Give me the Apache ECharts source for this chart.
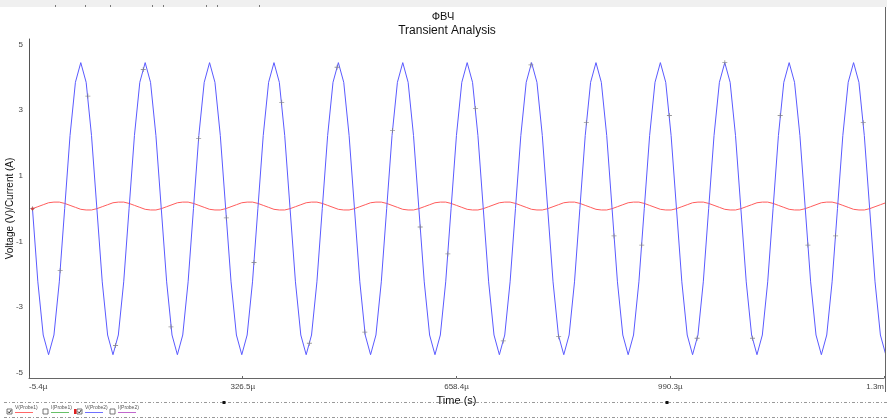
<!DOCTYPE html>
<html lang="ru">
<head>
    <meta charset="UTF-8">
    <title>ФВЧ Transient Analysis</title>
    <script src="https://cdn.jsdelivr.net/npm/echarts@6/dist/echarts.min.js"></script>
    <style>
        html, body { margin: 0; padding: 0; background: #fff; }
    </style>
</head>
<body>
    <div id="chart" style="width: 887px; height: 419px;"></div>
    <script>
        // sample step of both traces, microseconds
        const tStep = 8.333;

        // V(Probe2) - input sine, volts (12 samples per 100us period)
        const bluePoints = [
            0, -2.23, -3.85, -4.45, -3.85, -2.23, 0, 2.23, 3.85, 4.45, 3.85, 2.23,
            0, -2.23, -3.85, -4.45, -3.85, -2.23, 0, 2.23, 3.85, 4.45, 3.85, 2.23,
            0, -2.23, -3.85, -4.45, -3.85, -2.23, 0, 2.23, 3.85, 4.45, 3.85, 2.23,
            0, -2.23, -3.85, -4.45, -3.85, -2.23, 0, 2.23, 3.85, 4.45, 3.85, 2.23,
            0, -2.23, -3.85, -4.45, -3.85, -2.23, 0, 2.23, 3.85, 4.45, 3.85, 2.23,
            0, -2.23, -3.85, -4.45, -3.85, -2.23, 0, 2.23, 3.85, 4.45, 3.85, 2.23,
            0, -2.23, -3.85, -4.45, -3.85, -2.23, 0, 2.23, 3.85, 4.45, 3.85, 2.23,
            0, -2.23, -3.85, -4.45, -3.85, -2.23, 0, 2.23, 3.85, 4.45, 3.85, 2.23,
            0, -2.23, -3.85, -4.45, -3.85, -2.23, 0, 2.23, 3.85, 4.45, 3.85, 2.23,
            0, -2.23, -3.85, -4.45, -3.85, -2.23, 0, 2.23, 3.85, 4.45, 3.85, 2.23,
            0, -2.23, -3.85, -4.45, -3.85, -2.23, 0, 2.23, 3.85, 4.45, 3.85, 2.23,
            0, -2.23, -3.85, -4.45, -3.85, -2.23, 0, 2.23, 3.85, 4.45, 3.85, 2.23,
            0, -2.23, -3.85, -4.45, -3.85, -2.23, 0, 2.23, 3.85, 4.45, 3.85, 2.23,
            0, -2.23, -3.85, -4.45
        ];

        // V(Probe1) - filter output, volts
        const redPoints = [
            0.00, 0.06, 0.12, 0.18, 0.20, 0.20, 0.16, 0.10, 0.04, -0.02, -0.04, -0.04,
            0.00, 0.06, 0.12, 0.18, 0.20, 0.20, 0.16, 0.10, 0.04, -0.02, -0.04, -0.04,
            0.00, 0.06, 0.12, 0.18, 0.20, 0.20, 0.16, 0.10, 0.04, -0.02, -0.04, -0.04,
            0.00, 0.06, 0.12, 0.18, 0.20, 0.20, 0.16, 0.10, 0.04, -0.02, -0.04, -0.04,
            0.00, 0.06, 0.12, 0.18, 0.20, 0.20, 0.16, 0.10, 0.04, -0.02, -0.04, -0.04,
            0.00, 0.06, 0.12, 0.18, 0.20, 0.20, 0.16, 0.10, 0.04, -0.02, -0.04, -0.04,
            0.00, 0.06, 0.12, 0.18, 0.20, 0.20, 0.16, 0.10, 0.04, -0.02, -0.04, -0.04,
            0.00, 0.06, 0.12, 0.18, 0.20, 0.20, 0.16, 0.10, 0.04, -0.02, -0.04, -0.04,
            0.00, 0.06, 0.12, 0.18, 0.20, 0.20, 0.16, 0.10, 0.04, -0.02, -0.04, -0.04,
            0.00, 0.06, 0.12, 0.18, 0.20, 0.20, 0.16, 0.10, 0.04, -0.02, -0.04, -0.04,
            0.00, 0.06, 0.12, 0.18, 0.20, 0.20, 0.16, 0.10, 0.04, -0.02, -0.04, -0.04,
            0.00, 0.06, 0.12, 0.18, 0.20, 0.20, 0.16, 0.10, 0.04, -0.02, -0.04, -0.04,
            0.00, 0.06, 0.12, 0.18, 0.20, 0.20, 0.16, 0.10, 0.04, -0.02, -0.04, -0.04,
            0.00, 0.06, 0.12, 0.18
        ];

        // data point markers drawn on the blue trace: [time us, volts]
        const blueMarks = [
            [0, 0], [43, -1.89], [86, 3.43], [129, -4.17], [172, 4.24], [215, -3.60],
            [258, 2.14], [301, -0.28], [344, -1.64], [387, 3.24], [430, -4.10],
            [473, 4.31], [516, -3.76], [559, 2.38], [602, -0.56], [645, -1.38],
            [688, 3.05], [731, -4.03], [774, 4.38], [817, -3.90], [860, 2.62],
            [903, -0.83], [946, -1.11], [989, 2.84], [1032, -3.95], [1075, 4.45],
            [1118, -3.95], [1161, 2.84], [1204, -1.11], [1247, -0.83], [1290, 2.62]
        ];

        const xTicks = [-5.4, 326.5, 658.4, 990.3, 1322.2];
        const xTickLabels = ['-5.4µ', '326.5µ', '658.4µ', '990.3µ', '1.3m'];
        const yTicks = [-5, -3, -1, 1, 3, 5];

        const legendItems = [
            { label: 'V(Probe1)', color: '#ff4040', checked: true, x: 7 },
            { label: 'I(Probe1)', color: '#40b040', checked: false, x: 43 },
            { label: 'V(Probe2)', color: '#4a4aff', checked: true, x: 77 },
            { label: 'I(Probe2)', color: '#b040c0', checked: false, x: 110 }
        ];

        const font = '"Liberation Sans", Arial, sans-serif';

        const toXY = arr => arr.map((v, i) => [i * tStep, v]);

        // decorations around the plot (grapher window parts)
        const graphics = [
            { type: 'rect', shape: { x: 0, y: 0, width: 887, height: 7 }, style: { fill: '#f0f0f0' }, silent: true },
            { type: 'line', shape: { x1: 885.5, y1: 7, x2: 885.5, y2: 392 }, style: { stroke: '#666', lineWidth: 1 } },
            { type: 'line', shape: { x1: 4, y1: 402.5, x2: 887, y2: 402.5 }, style: { stroke: '#999', lineWidth: 1, lineDash: [3, 2, 1, 2] } },
            { type: 'line', shape: { x1: 4, y1: 417.5, x2: 887, y2: 417.5 }, style: { stroke: '#999', lineWidth: 1, lineDash: [3, 2, 1, 2] } },
            { type: 'rect', shape: { x: 222.5, y: 401, width: 3, height: 3 }, style: { fill: '#111' } },
            { type: 'rect', shape: { x: 665.5, y: 401, width: 3, height: 3 }, style: { fill: '#111' } },
            { type: 'text', style: { text: 'ФВЧ', x: 443, y: 17, align: 'center', verticalAlign: 'middle', font: '11px ' + font, fill: '#111' } },
            { type: 'text', style: { text: 'Transient Analysis', x: 447, y: 31, align: 'center', verticalAlign: 'middle', font: '12px ' + font, fill: '#111' } }
        ];
        [55, 85, 110, 152, 163, 206, 217, 259].forEach(x => {
            graphics.push({ type: 'rect', shape: { x: x, y: 5, width: 1, height: 2 }, style: { fill: '#777' } });
        });
        legendItems.forEach(item => {
            graphics.push({ type: 'rect', shape: { x: item.x, y: 409, width: 5, height: 5 }, style: { fill: '#fff', stroke: '#555', lineWidth: 0.8 } });
            if (item.checked) {
                graphics.push({ type: 'polyline', shape: { points: [[item.x + 1, 411.5], [item.x + 2.3, 413], [item.x + 4.2, 410]] }, style: { stroke: '#222', lineWidth: 0.9, fill: null } });
            }
            graphics.push({ type: 'text', style: { text: item.label, x: item.x + 8, y: 408, verticalAlign: 'middle', font: '5px ' + font, fill: '#555' } });
            graphics.push({ type: 'line', shape: { x1: item.x + 8, y1: 412.5, x2: item.x + 26, y2: 412.5 }, style: { stroke: item.color, lineWidth: 0.8 } });
        });
        graphics.push({ type: 'rect', shape: { x: 74, y: 409, width: 2.5, height: 5 }, style: { fill: '#e02020' } });

        const chart = echarts.init(document.getElementById('chart'), null, { renderer: 'canvas' });

        const options = {
            animation: false,
            backgroundColor: '#fff',
            textStyle: { fontFamily: font },
            grid: { left: 29, right: 3, top: 39, bottom: 41, outerBoundsMode: 'none', containLabel: false },
            xAxis: {
                type: 'value',
                min: -5.4,
                max: 1322.2,
                name: 'Time (s)',
                nameLocation: 'middle',
                nameGap: 17,
                nameTextStyle: { fontSize: 11, color: '#111' },
                axisLine: { onZero: false, lineStyle: { color: '#666' } },
                axisTick: { show: true, length: 2, inside: true, customValues: xTicks, lineStyle: { color: '#666' } },
                axisLabel: {
                    customValues: xTicks,
                    fontSize: 8,
                    color: '#444',
                    margin: 5,
                    alignMinLabel: 'left',
                    alignMaxLabel: 'right',
                    formatter: v => {
                        const i = xTicks.findIndex(t => Math.abs(t - v) < 0.01);
                        return i >= 0 ? xTickLabels[i] : '';
                    }
                },
                splitLine: { show: false }
            },
            yAxis: {
                type: 'value',
                min: -5.16,
                max: 5.17,
                name: 'Voltage (V)/Current (A)',
                nameLocation: 'middle',
                nameRotate: 90,
                nameGap: 14,
                nameMoveOverlap: false,
                nameTextStyle: { fontSize: 10, color: '#111' },
                axisLine: { show: true, onZero: false, lineStyle: { color: '#555' } },
                axisTick: { show: false },
                axisLabel: {
                    customValues: yTicks,
                    fontSize: 8,
                    color: '#444',
                    margin: 6,
                    formatter: v => String(v)
                },
                splitLine: { show: false }
            },
            graphic: graphics,
            series: [
                {
                    name: 'V(Probe1)',
                    type: 'line',
                    data: toXY(redPoints),
                    showSymbol: false,
                    lineStyle: { color: '#ff5c5c', width: 1 },
                    z: 2
                },
                {
                    name: 'V(Probe2)',
                    type: 'line',
                    data: toXY(bluePoints),
                    showSymbol: false,
                    lineStyle: { color: '#5a5aff', width: 1 },
                    z: 3
                },
                {
                    name: 'marks',
                    type: 'scatter',
                    data: blueMarks,
                    symbol: 'path://M-0.5,-3h1v6h-1z M-3,-0.5h6v1h-6z',
                    symbolSize: 5,
                    itemStyle: { color: '#808080' },
                    z: 4
                },
                {
                    name: 'start',
                    type: 'scatter',
                    data: [[0, 0]],
                    symbol: 'circle',
                    symbolSize: 3,
                    itemStyle: { color: '#d03030' },
                    z: 5
                }
            ]
        };

        chart.setOption(options);
    </script>
</body>
</html>
